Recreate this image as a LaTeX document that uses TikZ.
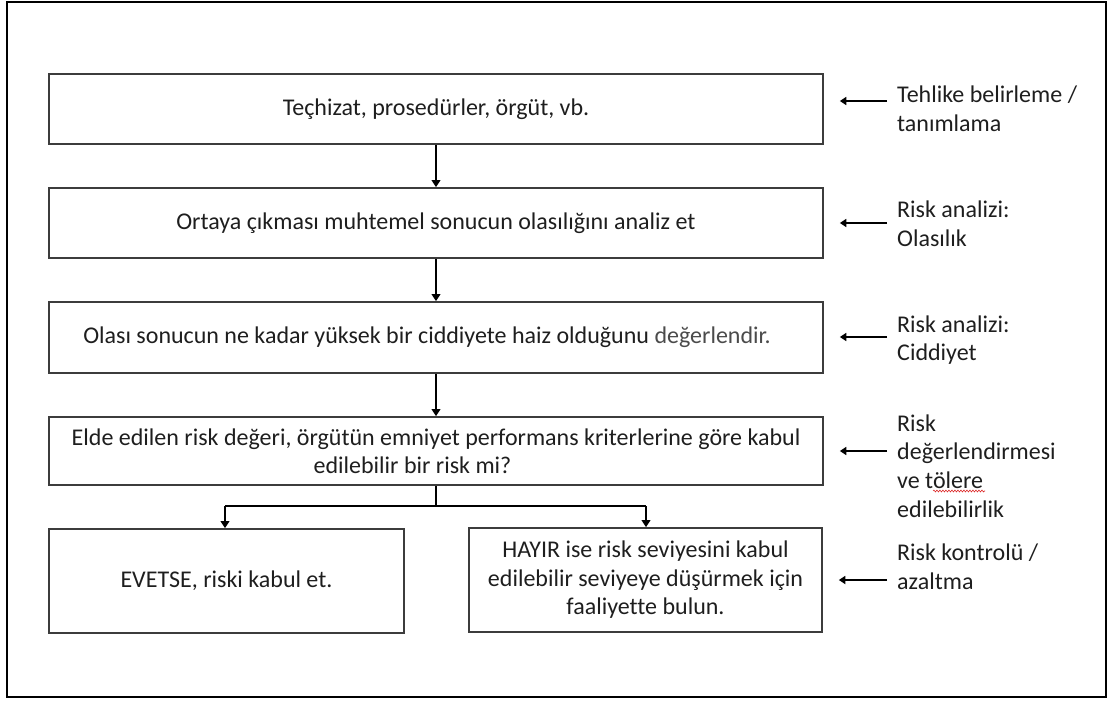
\documentclass[tikz,border=0pt]{standalone}
\usepackage{fontspec}
\setmainfont{Carlito}[Ligatures=NoCommon]
\usetikzlibrary{arrows.meta,decorations.pathmorphing}

\definecolor{inktext}{RGB}{30,30,30}
\definecolor{softtext}{RGB}{75,75,75}
\definecolor{boxline}{RGB}{60,60,60}
\definecolor{spellred}{RGB}{220,40,40}

\tikzset{
  stepbox/.style={draw=boxline, line width=1.6pt, rectangle, inner sep=0pt,
    text=inktext, font=\fontsize{24}{28.5}\selectfont, align=center},
  sidenote/.style={text=inktext, font=\fontsize{24}{28.7}\selectfont,
    align=left, inner sep=0pt, anchor=west},
  flow/.style={line width=2.6pt, -{Triangle[length=7pt,width=8.5pt]}},
  pointer/.style={line width=2.6pt, -{Triangle[length=6.5pt,width=8pt]}},
}

\begin{document}
\begin{tikzpicture}[x=1pt,y=-1pt]
\useasboundingbox (0,0) rectangle (1113,702);

% outer frame
\draw[line width=2.4pt] (7,2) rectangle (1106,697);

% main chain of steps
\node[stepbox, minimum width=774pt, minimum height=70pt] (b1) at (436,109)
  {Teçhizat, prosedürler, örgüt, vb.};
\node[stepbox, minimum width=774pt, minimum height=70pt] (b2) at (436,223)
  {Ortaya çıkması muhtemel sonucun olasılığını analiz et};
\node[stepbox, minimum width=774pt, minimum height=71pt] (b3) at (436,337.5)
  {Olası sonucun ne kadar yüksek bir ciddiyete haiz olduğunu {\color{softtext}değerlendir.}\hspace*{18pt}\mbox{}};
\node[stepbox, minimum width=774pt, minimum height=68pt] (b4) at (436,451)
  {Elde edilen risk değeri, örgütün emniyet performans kriterlerine göre kabul\\
   edilebilir bir risk mi?\hspace*{47pt}\mbox{}};

% outcomes
\node[stepbox, minimum width=355pt, minimum height=104pt] (b5) at (226.5,581)
  {EVETSE, riski kabul et.};
\node[stepbox, minimum width=353pt, minimum height=104pt] (b6) at (645.5,580)
  {HAYIR ise risk seviyesini kabul\\ edilebilir seviyeye düşürmek için\\ faaliyette bulun.};

% flow arrows
\draw[flow] (b1.south) -- (b2.north);
\draw[flow] (b2.south) -- (b3.north);
\draw[flow] (b3.south) -- (b4.north);

% branching to the two outcomes
\coordinate (fork) at (436,506);
\coordinate (forkL) at (225,506);
\coordinate (forkR) at (646,506);
\draw[line width=2.6pt] (b4.south) -- (fork);
\draw[line width=2.6pt] (forkL) -- (forkR);
\draw[flow] (forkL) -- (forkL |- b5.north);
\draw[flow] (forkR) -- (forkR |- b6.north);

% side notes
\node[sidenote] (n1) at (897,109) {Tehlike belirleme /\\ tanımlama};
\node[sidenote] (n2) at (897,224) {Risk analizi:\\ Olasılık};
\node[sidenote] (n3) at (897,340) {Risk analizi:\\ Ciddiyet};
\node[sidenote] (n4) at (897,466) {Risk\\ değerlendirmesi\\ ve tölere\\ edilebilirlik};
\node[sidenote] (n5) at (897,567) {Risk kontrolü /\\ azaltma};

% pointers from the notes to the steps
\coordinate (p1) at (887,101);
\coordinate (p2) at (887,223);
\coordinate (p3) at (887,337);
\coordinate (p4) at (887,451);
\coordinate (p5) at (887,580);
\draw[pointer, shorten >=16pt] (p1) -- (p1 -| b1.east);
\draw[pointer, shorten >=16pt] (p2) -- (p2 -| b2.east);
\draw[pointer, shorten >=16pt] (p3) -- (p3 -| b3.east);
\draw[pointer, shorten >=16pt] (p4) -- (p4 -| b4.east);
\draw[pointer, shorten >=16pt] (p5) -- (p5 -| b6.east);

% spell-check squiggle under "tölere"
\draw[spellred, line width=0.6pt, decorate,
  decoration={snake, amplitude=0.9pt, segment length=3pt}] (933,491) -- (985,491);
\end{tikzpicture}
\end{document}
